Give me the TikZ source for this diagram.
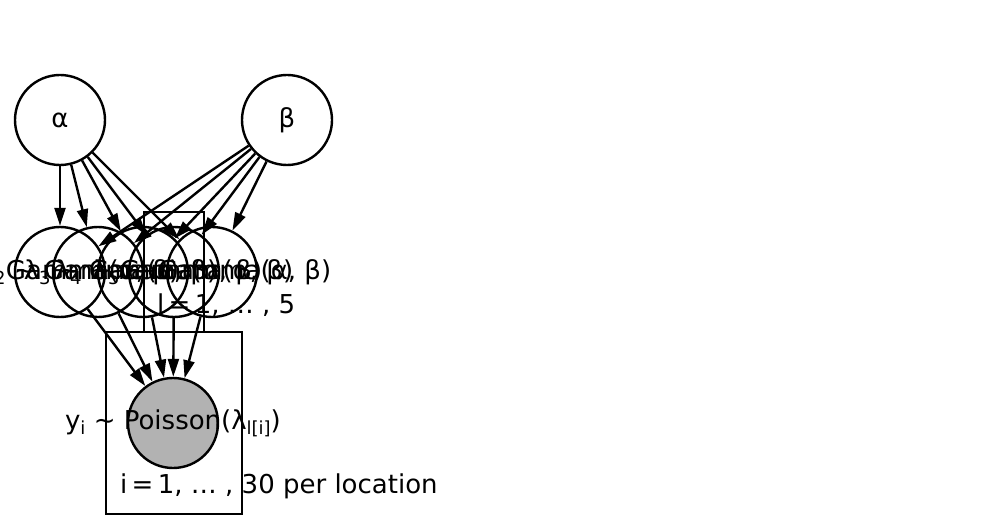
\documentclass[tikz,border=0pt]{standalone}
\usepackage{fontspec}
\setmainfont{DejaVu Sans}
\usepackage{tikz}
\usetikzlibrary{arrows.meta}
\newcommand{\lsub}[1]{\raisebox{-0.2em}{\fontsize{18}{18}\selectfont #1}}

\tikzset{
  latent/.style={circle,draw,line width=2.4pt,minimum size=90pt,inner sep=0pt},
  observed/.style={latent,fill=black!30},
  plate/.style={draw,line width=2.4pt},
  edge/.style={line width=2.4pt,-{Triangle[length=18pt,width=11pt]}}
}

\begin{document}
\begin{tikzpicture}[x=1pt,y=-1pt,font=\fontsize{26}{30}\selectfont]
		\useasboundingbox (0,0) rectangle (982,529);
		\clip (0,0) rectangle (982,529);

		% plates
		\draw[plate] (144,212) rectangle (204,332);
		\draw[plate] (106,332) rectangle (242,514);
		\node[anchor=base west,inner sep=0pt] (lplate) at (157,313) {l\,=\,1, … , 5};
		\node[anchor=base west,inner sep=0pt] (iplate) at (120,493) {i\,=\,1, … , 30 per location};

		% hyperpriors
		\node[latent] (alpha) at (60,120) {α};
		\node[latent] (beta) at (287,120) {β};

		% rates
		\foreach \k/\x in {1/60,2/98,3/143,4/174,5/212}
			\node[latent,label={center:λ\lsub{\k} ∼ Gamma(α, β)}] (lam\k) at (\x,272) {};

		% counts
		\node[observed,label={center:y\lsub{i} ∼ Poisson(λ\lsub{l[i]})}] (y) at (173,423) {};

		\foreach \k in {1,...,5} {
			\draw[edge] (alpha) -- (lam\k);
			\draw[edge] (beta) -- (lam\k);
			\draw[edge] (lam\k) -- (y);
		}
	\end{tikzpicture}
\end{document}
